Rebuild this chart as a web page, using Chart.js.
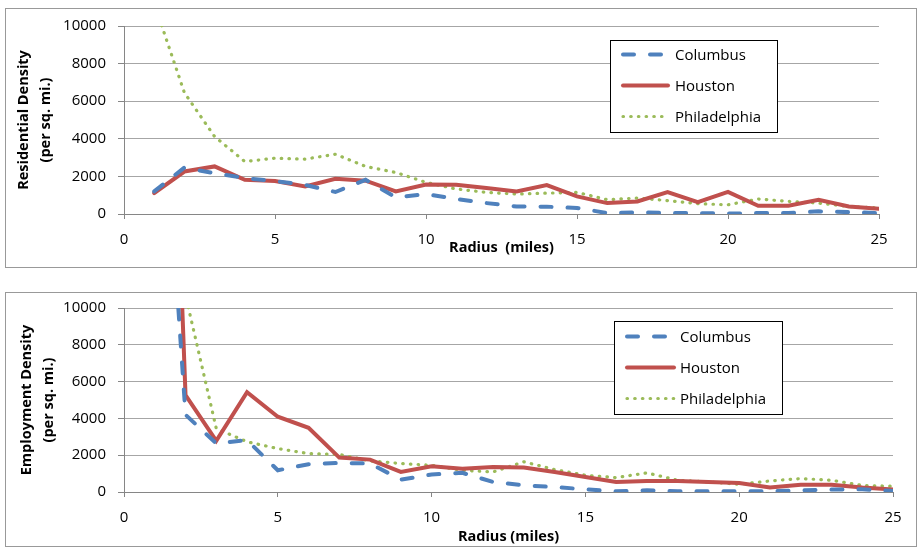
<!DOCTYPE html>
<html>
<head>
<meta charset="utf-8">
<script src="https://cdn.jsdelivr.net/npm/chart.js@4"></script>
<style>
  body { margin: 0; background: #fff; width: 917px; height: 547px; overflow: hidden; position: relative; }
  .box { position: absolute; left: 5px; border: 1px solid #999; background: #fff; }
  #topBox { top: 8px; width: 910px; height: 258px; }
  #botBox { top: 292px; width: 910px; height: 253px; }
  canvas { display: block; }
</style>
</head>
<body>
<div class="box" id="topBox"><canvas id="resChart" width="910" height="258"></canvas></div>
<div class="box" id="botBox"><canvas id="empChart" width="910" height="253"></canvas></div>
<script>
// Radius from downtown (miles)
const radius = [1, 2, 3, 4, 5, 6, 7, 8, 9, 10, 11, 12, 13, 14, 15, 16, 17, 18, 19, 20, 21, 22, 23, 24, 25];

// Residential density (per sq. mi.)
const resColumbus     = [1200, 2470, 2170, 1910, 1750, 1550, 1170, 1820, 880, 1060, 800, 580, 400, 390, 320, 50, 90, 50, 50, 20, 50, 50, 140, 100, 50];
const resHouston      = [1110, 2260, 2530, 1820, 1750, 1470, 1870, 1770, 1200, 1570, 1556, 1380, 1200, 1540, 940, 580, 670, 1170, 630, 1180, 440, 440, 760, 400, 280];
const resPhiladelphia = [11200, 6450, 4120, 2790, 2970, 2920, 3180, 2530, 2210, 1680, 1330, 1150, 1060, 1110, 1150, 760, 850, 710, 550, 490, 800, 670, 580, 400, 320];

// Employment density (per sq. mi.)
const empColumbus     = [29000, 4200, 2640, 2820, 1180, 1510, 1580, 1550, 670, 950, 1040, 545, 360, 270, 145, 36, 90, 40, 40, 40, 40, 90, 130, 145, 55];
const empHouston      = [50000, 5270, 2780, 5420, 4090, 3490, 1870, 1760, 1090, 1400, 1270, 1360, 1330, 1090, 820, 545, 600, 600, 545, 490, 240, 400, 400, 240, 130];
const empPhiladelphia = [25000, 10700, 3450, 2730, 2360, 2090, 2040, 1690, 1550, 1450, 1180, 1090, 1640, 1220, 910, 780, 1040, 640, 545, 420, 600, 730, 640, 360, 310];

const cities = ['Columbus', 'Houston', 'Philadelphia'];
const xTicks = [0, 5, 10, 15, 20, 25];
const yTicks = [0, 2000, 4000, 6000, 8000, 10000];

const FONT = '"Open Sans", "DejaVu Sans", sans-serif';

// Legend drawn as a framed box inside the plot area
const boxLegend = {
    id: 'boxLegend',
    afterDatasetsDraw(chart, args, o) {
        const ctx = chart.ctx;
        ctx.save();
        ctx.fillStyle = '#fff';
        ctx.fillRect(o.left, o.top, o.width, o.height);
        ctx.strokeStyle = '#000';
        ctx.lineWidth = 1;
        ctx.strokeRect(o.left + 0.5, o.top + 0.5, o.width, o.height);
        chart.data.datasets.forEach((ds, i) => {
            const y = o.top + o.rowTop + i * o.rowGap;
            ctx.beginPath();
            ctx.strokeStyle = ds.borderColor;
            ctx.lineWidth = ds.borderWidth;
            ctx.lineCap = ds.borderCapStyle || 'butt';
            ctx.setLineDash(ds.borderDash || []);
            ctx.moveTo(o.left + o.lineStart, y);
            ctx.lineTo(o.left + o.lineEnd, y);
            ctx.stroke();
            ctx.setLineDash([]);
            ctx.fillStyle = '#000';
            ctx.font = '15px ' + FONT;
            ctx.textBaseline = 'middle';
            ctx.fillText(ds.label, o.left + o.textX, y + 1);
        });
        ctx.restore();
    }
};

function series(values) {
    return radius.map((r, i) => ({ x: r, y: values[i] }));
}

function densityChart(id, yTitle, xTitle, cols, hou, phi, L) {
    return new Chart(document.getElementById(id), {
        type: 'line',
        data: {
            datasets: [{
                label: cities[0],
                data: series(cols),
                borderColor: '#4F81BD',
                borderWidth: 4,
                borderDash: [11, 16],
                borderCapStyle: 'round'
            }, {
                label: cities[1],
                data: series(hou),
                borderColor: '#C0504D',
                borderWidth: 4,
                borderCapStyle: 'round'
            }, {
                label: cities[2],
                data: series(phi),
                borderColor: '#9BBB59',
                borderWidth: 3.2,
                borderDash: [0.5, 7.2],
                borderCapStyle: 'round'
            }]
        },
        options: {
            responsive: false,
            animation: false,
            layout: { padding: { left: 0, right: L.right, top: L.top, bottom: 0 } },
            elements: { point: { radius: 0 }, line: { tension: 0 } },
            plugins: {
                legend: { display: false },
                tooltip: { enabled: false },
                boxLegend: L.legend
            },
            scales: {
                x: {
                    type: 'linear',
                    min: 0,
                    max: 25,
                    afterBuildTicks: s => { s.ticks = xTicks.map(v => ({ value: v })); },
                    ticks: { color: '#000', font: { family: FONT, size: 15 }, padding: L.xTickPad, maxRotation: 0 },
                    grid: { drawOnChartArea: false, tickLength: 5, tickColor: '#868686' },
                    border: { color: '#868686', width: 1 },
                    title: {
                        display: true, text: xTitle, color: '#000',
                        font: { family: FONT, size: 14.5, weight: 'bold', lineHeight: 1.2 },
                        padding: { top: 0, bottom: L.xTitlePad }
                    },
                    afterFit: s => { s.height = L.xh; }
                },
                y: {
                    min: 0,
                    max: 10000,
                    afterBuildTicks: s => { s.ticks = yTicks.map(v => ({ value: v })); },
                    ticks: { color: '#000', font: { family: FONT, size: 15 }, padding: 12, callback: v => String(v) },
                    grid: { color: '#a6a6a6', tickLength: 6, tickColor: '#868686' },
                    border: { color: '#868686', width: 1 },
                    title: {
                        display: true, text: yTitle, color: '#000',
                        font: { family: FONT, size: 14.5, weight: 'bold', lineHeight: 1.5 },
                        padding: { top: L.yTitlePad, bottom: 0 }
                    },
                    // fixed width; let the layout padding alone set the plot top
                    afterFit: s => { s.width = 118; s.paddingTop = 0; s.paddingBottom = 0; }
                }
            }
        },
        plugins: [boxLegend]
    });
}

densityChart('resChart', ['Residential Density', '(per sq. mi.)'], 'Radius  (miles)',
    resColumbus, resHouston, resPhiladelphia, {
        right: 37, top: 17, xh: 53, xTickPad: 12, xTitlePad: 10, yTitlePad: 7,
        legend: { left: 604, top: 31, width: 167, height: 92, rowTop: 14.5, rowGap: 31, lineStart: 13, lineEnd: 58, textX: 65 }
    });

densityChart('empChart', ['Employment Density', '(per sq. mi.)'], 'Radius (miles)',
    empColumbus, empHouston, empPhiladelphia, {
        right: 23, top: 15, xh: 54, xTickPad: 12, xTitlePad: 0, yTitlePad: 10,
        legend: { left: 608, top: 28, width: 168, height: 93, rowTop: 15.5, rowGap: 31, lineStart: 13, lineEnd: 60, textX: 66 }
    });
</script>
</body>
</html>
